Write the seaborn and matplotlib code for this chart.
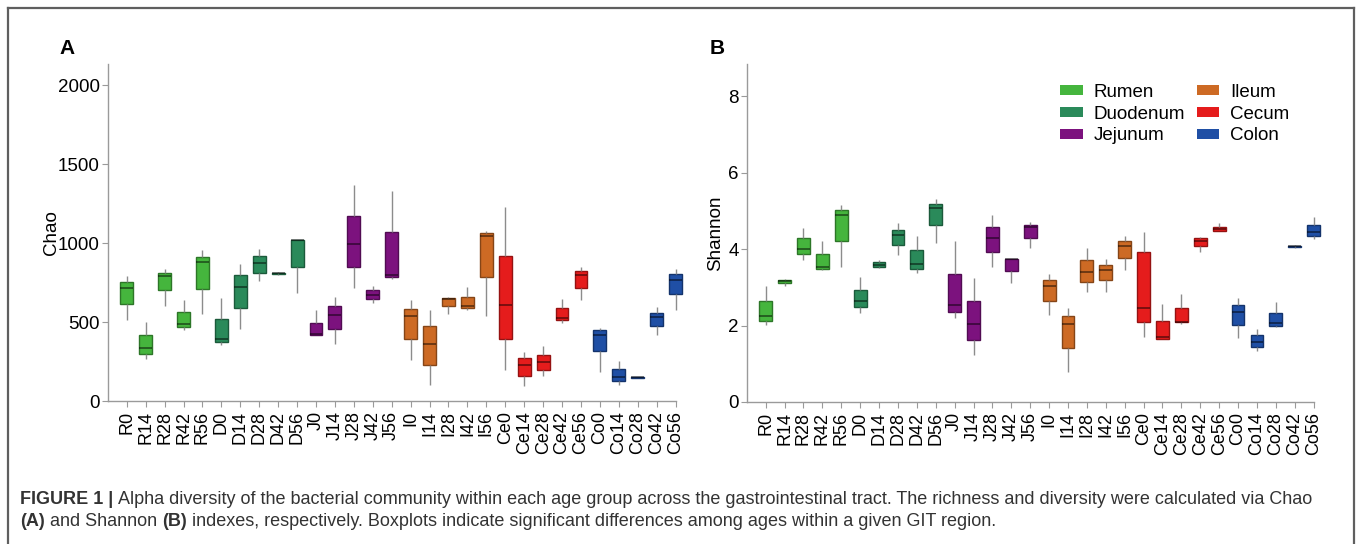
import numpy as np
import pandas as pd
import matplotlib
matplotlib.use("Agg")
import matplotlib.pyplot as plt
import matplotlib.colors as mcolors
from matplotlib.patches import Patch
from matplotlib.lines import Line2D
import seaborn as sns

# groups (age x GIT region) and their region
groups = ['R0', 'R14', 'R28', 'R42', 'R56', 'D0', 'D14', 'D28', 'D42', 'D56',
          'J0', 'J14', 'J28', 'J42', 'J56', 'I0', 'I14', 'I28', 'I42', 'I56',
          'Ce0', 'Ce14', 'Ce28', 'Ce42', 'Ce56', 'Co0', 'Co14', 'Co28', 'Co42', 'Co56']
regions = ['Rumen'] * 5 + ['Duodenum'] * 5 + ['Jejunum'] * 5 + ['Ileum'] * 5 + ['Cecum'] * 5 + ['Colon'] * 5
region_names = ['Rumen', 'Duodenum', 'Jejunum', 'Ileum', 'Cecum', 'Colon']
region_colors = ['#45b53d', '#2a8a5a', '#7c127e', '#cd6a24', '#e51c1c', '#1f4fa5']

# five-number summaries: [min, q1, median, q3, max]
chao = [
    [511, 617, 716, 752, 790], [268, 300, 338, 420, 503], [604, 703, 792, 813, 836],
    [450, 471, 490, 566, 640], [548, 712, 879, 914, 955],
    [357, 374, 395, 522, 650], [458, 591, 724, 796, 870], [760, 813, 874, 917, 963],
    [796, 804, 807, 810, 817], [682, 847, 1016, 1020, 1020],
    [415, 415, 425, 496, 579], [363, 454, 543, 600, 659], [718, 847, 993, 1172, 1366],
    [621, 646, 672, 701, 729], [775, 786, 800, 1071, 1330],
    [262, 393, 536, 583, 638], [99, 230, 363, 473, 579], [553, 600, 646, 653, 659],
    [579, 591, 604, 659, 724], [536, 786, 1043, 1064, 1075],
    [194, 393, 606, 917, 1229], [93, 161, 228, 272, 310], [161, 194, 245, 291, 346],
    [496, 513, 528, 591, 646], [642, 718, 796, 824, 849],
    [184, 317, 420, 452, 463], [99, 129, 152, 205, 251], [144, 148, 150, 152, 154],
    [416, 473, 532, 558, 596], [579, 678, 769, 805, 834],
]
shannon = [
    [2.02, 2.11, 2.24, 2.63, 3.03], [3.03, 3.10, 3.17, 3.20, 3.22], [3.71, 3.86, 4.01, 4.28, 4.54],
    [3.45, 3.49, 3.53, 3.88, 4.22], [3.52, 4.21, 4.89, 5.02, 5.14],
    [2.33, 2.49, 2.64, 2.94, 3.27], [3.50, 3.53, 3.58, 3.67, 3.72], [3.84, 4.10, 4.36, 4.51, 4.69],
    [3.38, 3.49, 3.62, 3.97, 4.34], [4.16, 4.62, 5.08, 5.19, 5.31],
    [2.21, 2.36, 2.53, 3.35, 4.21], [1.24, 1.63, 2.05, 2.65, 3.25], [3.53, 3.92, 4.30, 4.58, 4.88],
    [3.12, 3.43, 3.73, 3.74, 3.75], [4.04, 4.30, 4.58, 4.64, 4.71],
    [2.27, 2.64, 3.03, 3.20, 3.34], [0.79, 1.41, 2.03, 2.25, 2.47], [2.88, 3.13, 3.40, 3.71, 4.03],
    [2.89, 3.18, 3.45, 3.59, 3.74], [3.45, 3.76, 4.09, 4.21, 4.34],
    [1.70, 2.09, 2.47, 3.93, 4.45], [1.66, 1.66, 1.69, 2.13, 2.56], [2.05, 2.08, 2.09, 2.47, 2.82],
    [3.93, 4.09, 4.21, 4.29, 4.32], [4.46, 4.48, 4.52, 4.58, 4.69],
    [1.68, 2.02, 2.36, 2.53, 2.71], [1.34, 1.44, 1.57, 1.74, 1.91], [1.96, 2.00, 2.07, 2.32, 2.62],
    [4.04, 4.05, 4.07, 4.09, 4.10], [4.26, 4.34, 4.45, 4.62, 4.83],
]

rows = []
for g, r, c, s in zip(groups, regions, chao, shannon):
    for cv, sv in zip(c, s):
        rows.append({'group': g, 'region': r, 'Chao': cv, 'Shannon': sv})
df = pd.DataFrame(rows)

plt.rcParams['font.family'] = ['Liberation Sans', 'DejaVu Sans']
fig = plt.figure(figsize=(13.57, 5.44), dpi=100)
W, H = 1357, 544

axA = fig.add_axes([108 / W, 1 - 401 / H, 568 / W, 337 / H])
axB = fig.add_axes([747 / W, 1 - 402 / H, 567 / W, 338 / H])

palette = dict(zip(region_names, region_colors))


def draw(ax, col, ylim, yticks, labelpad):
    sns.boxplot(data=df, x='group', y=col, hue='region', order=groups,
                hue_order=region_names, palette=palette, saturation=1,
                dodge=False, width=0.68, whis=(0, 100), showcaps=False,
                linewidth=1, legend=False, ax=ax,
                medianprops=dict(color=(0, 0, 0, 0.55), linewidth=1.2),
                whiskerprops=dict(color='#8c8c8c', linewidth=1))
    for p in ax.patches:
        fc = np.array(mcolors.to_rgb(p.get_facecolor()))
        p.set_edgecolor(tuple(fc * 0.65))
        p.set_clip_on(False)
    for ln in ax.lines:
        ln.set_clip_on(False)
    ax.set_xlim(-0.99, len(groups) - 1 + 0.02)
    ax.set_ylim(*ylim)
    ax.set_yticks(yticks)
    ax.set_xlabel('')
    ax.set_ylabel(col, fontsize=13.5, labelpad=labelpad)
    for s in ['top', 'right']:
        ax.spines[s].set_visible(False)
    for s in ['left', 'bottom']:
        ax.spines[s].set_color('#9a9a9a')
        ax.spines[s].set_linewidth(1)
    ax.tick_params(axis='x', rotation=90, labelsize=13, length=4, color='#9a9a9a', pad=3)
    ax.tick_params(axis='y', labelsize=13.5, length=4, color='#9a9a9a', pad=2)
    ax.set_facecolor('white')


draw(axA, 'Chao', (0, 2133), [0, 500, 1000, 1500, 2000], -2)
draw(axB, 'Shannon', (0, 8.84), [0, 2, 4, 6, 8], 3)

fig.text(67 / W, 1 - 49 / H, 'A', fontsize=15, fontweight='bold', ha='center', va='center')
fig.text(717 / W, 1 - 48 / H, 'B', fontsize=15, fontweight='bold', ha='center', va='center')

handles = [Patch(facecolor=c, edgecolor='none', label=n) for n, c in zip(region_names, region_colors)]
axB.legend(handles=handles, ncol=2, loc='upper left', frameon=False,
           bbox_to_anchor=(1060 / W, 1 - 84 / H), bbox_transform=fig.transFigure,
           fontsize=13.5, handlelength=1.2, handleheight=0.45, handletextpad=0.6,
           columnspacing=0.6, labelspacing=0.25, borderpad=0, borderaxespad=0)

# outer frame
frame_kw = dict(color='#5f5f5f', linewidth=1.6, transform=fig.transFigure)
fig.add_artist(Line2D([8 / W, 8 / W], [0, 1 - 8 / H], **frame_kw))
fig.add_artist(Line2D([8 / W, 1354 / W], [1 - 8 / H, 1 - 8 / H], **frame_kw))
fig.add_artist(Line2D([1354 / W, 1354 / W], [0, 1 - 8 / H], **frame_kw))

# caption with bold runs
renderer = fig.canvas.get_renderer()
cap_size = 13.0


def rich_line(x_px, y_px, parts):
    x = x_px
    for txt, bold in parts:
        t = fig.text(x / W, 1 - y_px / H, txt, fontsize=cap_size, color='#333333',
                     fontweight='bold' if bold else 'normal', va='center', ha='left')
        bb = t.get_window_extent(renderer=renderer)
        x += bb.width


rich_line(20, 500, [('FIGURE 1 | ', True),
                    ('Alpha diversity of the bacterial community within each age group across the '
                     'gastrointestinal tract. The richness and diversity were calculated via Chao', False)])
rich_line(20, 522, [('(A)', True), (' and Shannon ', False), ('(B)', True),
                    (' indexes, respectively. Boxplots indicate significant differences among ages '
                     'within a given GIT region.', False)])

fig.savefig('out.png', dpi=100, facecolor='white')
